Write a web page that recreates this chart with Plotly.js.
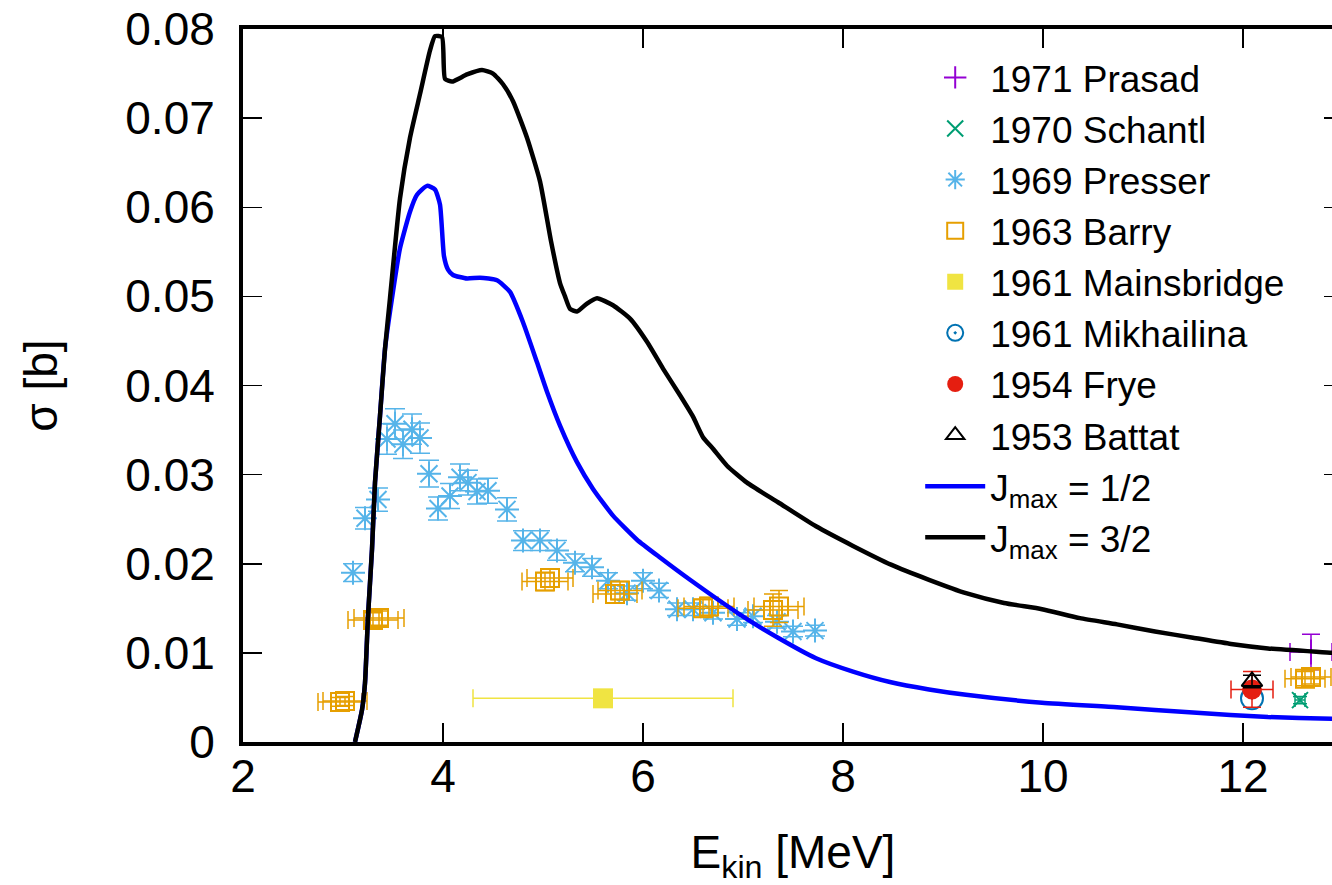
<!DOCTYPE html>
<html>
<head>
<meta charset="utf-8">
<script src="https://cdn.plot.ly/plotly-3.0.1.min.js"></script>
<style>
html, body { margin:0; padding:0; overflow:hidden; background:#fff; width:1332px; height:885px; }
#chart { width:1345px; height:885px; }
</style>
</head>
<body>
<div id="chart"></div>
<script>
// ---- data ----
const xTicks = [2, 4, 6, 8, 10, 12];
const yTicks = [0, 0.01, 0.02, 0.03, 0.04, 0.05, 0.06, 0.07, 0.08];
const yTickText = ["0", "0.01", "0.02", "0.03", "0.04", "0.05", "0.06", "0.07", "0.08"];

// J_max = 1/2 (blue curve)
const j12X = [3.12, 3.19, 3.22, 3.25, 3.29, 3.32, 3.37, 3.42, 3.49, 3.57, 3.67, 3.74, 3.84, 3.92, 3.97, 4.01, 4.05, 4.10, 4.24, 4.37, 4.54, 4.67, 4.80, 4.94, 5.04, 5.17, 5.34, 5.50, 5.70, 5.94, 6.17, 6.47, 6.97, 7.35, 7.73, 8.10, 8.48, 8.86, 9.23, 9.99, 10.74, 11.50, 12.25, 12.89, 13.0];
const j12Y = [0, 0.0036, 0.0066, 0.0141, 0.0216, 0.0291, 0.0366, 0.0441, 0.0498, 0.0554, 0.0595, 0.0614, 0.0624, 0.0620, 0.0603, 0.0545, 0.0530, 0.0524, 0.0520, 0.0521, 0.0518, 0.0505, 0.0471, 0.0426, 0.0393, 0.0355, 0.0314, 0.0284, 0.0254, 0.0227, 0.0207, 0.0182, 0.0143, 0.0117, 0.0094, 0.0079, 0.0067, 0.0059, 0.0053, 0.0044, 0.0039, 0.0033, 0.0028, 0.0026, 0.0026];

// J_max = 3/2 (black curve)
const j32X = [3.12, 3.19, 3.22, 3.25, 3.29, 3.32, 3.37, 3.42, 3.47, 3.57, 3.67, 3.77, 3.87, 3.92, 3.99, 4.02, 4.09, 4.24, 4.39, 4.50, 4.60, 4.70, 4.84, 4.97, 5.08, 5.17, 5.22, 5.27, 5.34, 5.44, 5.54, 5.70, 5.87, 6.04, 6.20, 6.37, 6.50, 6.60, 6.70, 6.84, 7.04, 7.35, 7.73, 8.10, 8.48, 8.86, 9.23, 9.61, 9.99, 10.37, 10.74, 11.12, 11.50, 11.88, 12.25, 12.89, 13.0];
const j32Y = [0, 0.0036, 0.0066, 0.0141, 0.0216, 0.0291, 0.0366, 0.0441, 0.0498, 0.0610, 0.0678, 0.0727, 0.0776, 0.0792, 0.0791, 0.0744, 0.0741, 0.0749, 0.0754, 0.0750, 0.0738, 0.0719, 0.0678, 0.0629, 0.0562, 0.0515, 0.0500, 0.0486, 0.0483, 0.0492, 0.0498, 0.0490, 0.0475, 0.0449, 0.0419, 0.0389, 0.0365, 0.0342, 0.0329, 0.0310, 0.0291, 0.0269, 0.0242, 0.0220, 0.0199, 0.0182, 0.0167, 0.0156, 0.0149, 0.0139, 0.0132, 0.0124, 0.0117, 0.0110, 0.0105, 0.0100, 0.0099];

// 1969 Presser
const presserX = [3.10, 3.22, 3.35, 3.44, 3.52, 3.60, 3.69, 3.77, 3.86, 3.95, 4.07, 4.17, 4.25, 4.34, 4.45, 4.64, 4.80, 4.97, 5.14, 5.32, 5.49, 5.65, 5.84, 6.00, 6.16, 6.34, 6.50, 6.70, 6.94, 7.10, 7.34, 7.50, 7.72];
const presserY = [0.0190, 0.0251, 0.0272, 0.0340, 0.0357, 0.0334, 0.0351, 0.0341, 0.0301, 0.0262, 0.0276, 0.0297, 0.0291, 0.0281, 0.0282, 0.0261, 0.0226, 0.0226, 0.0215, 0.0201, 0.0196, 0.0181, 0.0167, 0.0181, 0.0170, 0.0149, 0.0149, 0.0145, 0.0138, 0.0141, 0.0135, 0.0124, 0.0125];
const presserDY = [0.0010, 0.0012, 0.0013, 0.0017, 0.0017, 0.0016, 0.0017, 0.0017, 0.0015, 0.0013, 0.0014, 0.0015, 0.0014, 0.0014, 0.0014, 0.0013, 0.0011, 0.0011, 0.0011, 0.0010, 0.0010, 0.0009, 0.0008, 0.0009, 0.0008, 0.0007, 0.0007, 0.0007, 0.0007, 0.0007, 0.0007, 0.0006, 0.0006];

// 1963 Barry
const barryX = [2.97, 3.02, 3.30, 3.36, 5.02, 5.07, 5.72, 5.77, 6.60, 6.66, 7.30, 7.36, 12.62, 12.68];
const barryY = [0.0045, 0.0046, 0.0137, 0.0139, 0.0180, 0.0184, 0.0166, 0.0170, 0.0150, 0.0152, 0.0148, 0.0152, 0.0071, 0.0073];
const barryDX = [0.22, 0.22, 0.25, 0.25, 0.23, 0.23, 0.22, 0.22, 0.25, 0.25, 0.25, 0.25, 0.20, 0.20];
const barryDY = [0.0005, 0.0005, 0.0008, 0.0008, 0.0010, 0.0010, 0.0010, 0.0010, 0.0010, 0.0010, 0.0018, 0.0018, 0.0008, 0.0008];

// 1961 Mainsbridge
const mainsX = [5.60];
const mainsY = [0.0049];
const mainsDX = [1.30];

// 1961 Mikhailina
const mikhX = [12.09];
const mikhY = [0.0049];

// 1954 Frye
const fryeX = [12.09];
const fryeY = [0.0059];
const fryeDX = [0.21];
const fryeDY = [0.0020];

// 1953 Battat
const battatX = [12.09];
const battatY = [0.0068];
const battatDY = [0.0007];

// 1970 Schantl
const schantlX = [12.57];
const schantlY = [0.0047];
const schantlDX = [0.05];
const schantlDY = [0.0004];

// 1971 Prasad
const prasadX = [12.68];
const prasadY = [0.0101];
const prasadDX = [0.21];
const prasadDY = [0.0020];

// ---- traces ----
const FONT = "Liberation Sans, Arial, Helvetica, sans-serif";
function ebar(arr, color, w) {
  return {type: 'data', array: arr, visible: true, color: color, thickness: 1.5, width: w};
}

const traces = [
  {name: '1971 Prasad', x: prasadX, y: prasadY, mode: 'markers', type: 'scatter',
   marker: {symbol: 'cross-thin-open', size: 18, color: '#9400d3', line: {color: '#9400d3', width: 2}},
   error_x: ebar(prasadDX, '#9400d3', 9), error_y: ebar(prasadDY, '#9400d3', 9)},
  {name: '1970 Schantl', x: schantlX, y: schantlY, mode: 'markers', type: 'scatter',
   marker: {symbol: 'x-thin-open', size: 16, color: '#009e73', line: {color: '#009e73', width: 2}},
   error_x: ebar(schantlDX, '#009e73', 7), error_y: ebar(schantlDY, '#009e73', 7)},
  {name: '1969 Presser', x: presserX, y: presserY, mode: 'markers', type: 'scatter',
   marker: {symbol: 'asterisk-open', size: 20, color: '#56b4e9', line: {color: '#56b4e9', width: 2}},
   error_y: ebar(presserDY, '#56b4e9', 10)},
  {name: '1963 Barry', x: barryX, y: barryY, mode: 'markers', type: 'scatter',
   marker: {symbol: 'square-open', size: 18, color: '#e69f00', line: {color: '#e69f00', width: 2}},
   error_x: ebar(barryDX, '#e69f00', 9), error_y: ebar(barryDY, '#e69f00', 9)},
  {name: '1961 Mainsbridge', x: mainsX, y: mainsY, mode: 'markers', type: 'scatter',
   marker: {symbol: 'square', size: 20, color: '#f0e442'},
   error_x: ebar(mainsDX, '#f0e442', 9)},
  {name: '1961 Mikhailina', x: mikhX, y: mikhY, mode: 'markers', type: 'scatter',
   marker: {symbol: 'circle-open-dot', size: 22, color: '#0072b2', line: {color: '#0072b2', width: 2}}},
  {name: '1954 Frye', x: fryeX, y: fryeY, mode: 'markers', type: 'scatter',
   marker: {symbol: 'circle', size: 20, color: '#e51e10'},
   error_x: ebar(fryeDX, '#e51e10', 9), error_y: ebar(fryeDY, '#e51e10', 9)},
  {name: '1953 Battat', x: battatX, y: battatY, mode: 'markers', type: 'scatter',
   marker: {symbol: 'triangle-up-open', size: 18, color: '#000000', line: {color: '#000000', width: 2}},
   error_y: ebar(battatDY, '#000000', 9)},
  {name: 'J<sub>max</sub> = 1/2', x: j12X, y: j12Y, mode: 'lines', type: 'scatter',
   line: {color: '#0000ff', width: 4.5, shape: 'spline', smoothing: 0.5}},
  {name: 'J<sub>max</sub> = 3/2', x: j32X, y: j32Y, mode: 'lines', type: 'scatter',
   line: {color: '#000000', width: 4.5, shape: 'spline', smoothing: 0.5}}
];

const layout = {
  width: 1345, height: 885,
  margin: {l: 243, r: 2, t: 29, b: 143},
  paper_bgcolor: '#ffffff', plot_bgcolor: '#ffffff',
  font: {family: FONT, size: 46, color: '#000000'},
  showlegend: true,
  legend: {
    x: 0.952, xanchor: 'right', y: 0.975, yanchor: 'top',
    bgcolor: 'rgba(0,0,0,0)', borderwidth: 0,
    font: {family: FONT, size: 37, color: '#000000'},
    itemwidth: 60
  },
  xaxis: {
    range: [2, 13], tickmode: 'array', tickvals: xTicks, ticktext: xTicks.map(String),
    showline: true, linecolor: '#000000', linewidth: 4, mirror: 'ticks',
    ticks: 'inside', ticklen: 19, tickwidth: 1.5, tickcolor: '#000000',
    showgrid: false, zeroline: false, ticklabelstandoff: -9,
    tickfont: {family: FONT, size: 46, color: '#000000'},
    title: {text: 'E<sub>kin</sub> [MeV]', font: {family: FONT, size: 46, color: '#000000'}, standoff: 51}
  },
  yaxis: {
    range: [0, 0.08], tickmode: 'array', tickvals: yTicks, ticktext: yTickText,
    showline: true, linecolor: '#000000', linewidth: 4, mirror: 'ticks',
    ticks: 'inside', ticklen: 19, tickwidth: 1.5, tickcolor: '#000000',
    showgrid: false, zeroline: false, ticklabelstandoff: 15,
    tickfont: {family: FONT, size: 46, color: '#000000'},
    title: {text: 'σ [b]', font: {family: FONT, size: 46, color: '#000000'}, standoff: 54}
  }
};

Plotly.newPlot('chart', traces, layout, {displayModeBar: false, staticPlot: true});
</script>
</body>
</html>
